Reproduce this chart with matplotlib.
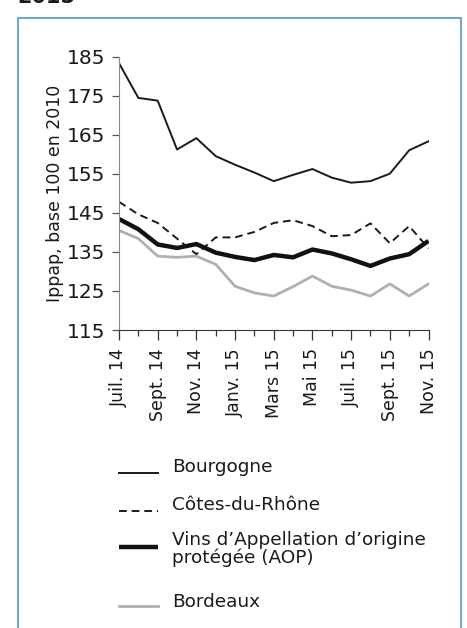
import matplotlib
matplotlib.use("Agg")
import matplotlib.pyplot as plt
from matplotlib.lines import Line2D
from matplotlib.patches import Rectangle

# monthly index, juillet 2014 -> novembre 2015
months = ["Juil. 14", "Août 14", "Sept. 14", "Oct. 14", "Nov. 14", "Déc. 14",
          "Janv. 15", "Févr. 15", "Mars 15", "Avr. 15", "Mai 15", "Juin 15",
          "Juil. 15", "Août 15", "Sept. 15", "Oct. 15", "Nov. 15"]
bourgogne = [183.3, 174.4, 173.7, 161.2, 164.1, 159.5, 157.3, 155.3, 153.1,
             154.7, 156.2, 154.0, 152.7, 153.1, 155.0, 161.0, 163.3]
cotes_du_rhone = [147.8, 144.6, 142.4, 138.4, 134.4, 138.7, 138.7, 140.1, 142.4,
                  143.1, 141.6, 139.0, 139.3, 142.3, 137.2, 141.6, 135.9]
aop = [143.4, 140.8, 136.9, 136.0, 137.0, 134.8, 133.7, 132.9, 134.2,
       133.6, 135.6, 134.6, 133.1, 131.4, 133.3, 134.4, 137.8]
bordeaux = [140.5, 138.4, 133.9, 133.6, 133.9, 131.8, 126.2, 124.5, 123.7,
            126.1, 128.8, 126.2, 125.2, 123.7, 126.8, 123.7, 126.8]

labels = ["Bourgogne", "Côtes-du-Rhône",
          "Vins d\u2019Appellation d\u2019origine\nprotégée (AOP)", "Bordeaux"]
yticks = [115, 125, 135, 145, 155, 165, 175, 185]

W, H = 467, 628
fig = plt.figure(figsize=(W / 100, H / 100), dpi=100)
plt.rcParams['font.family'] = ['DejaVu Sans']

ax = fig.add_axes([119 / W, 1 - 330 / H, (428.5 - 119) / W, (330 - 56.5) / H])
x = list(range(len(months)))
styles = [
    dict(color="#1a1a1a", lw=1.4, ls="-"),
    dict(color="#1a1a1a", lw=1.4, ls=(0, (4, 2.5))),
    dict(color="#111111", lw=3.2, ls="-", solid_capstyle="butt"),
    dict(color="#b0b0b0", lw=2.0, ls="-"),
]
series = [bourgogne, cotes_du_rhone, aop, bordeaux]
for s, st in zip(series, styles):
    ax.plot(x, s, **st)

ax.set_xlim(0, len(months) - 1)
ax.set_ylim(115, 185)
ax.set_yticks(yticks)
ax.set_xticks(x[::2])
ax.set_xticklabels(months[::2], rotation=90)
ax.set_xticks(x[1::2], minor=True)
for sp in ["top", "right"]:
    ax.spines[sp].set_visible(False)
ax.spines["left"].set_color("#8a8a8a")
ax.spines["bottom"].set_color("#333333")
ax.tick_params(axis="y", length=5, width=0.9, color="#555555", labelsize=14.5,
               pad=5, labelcolor="#1a1a1a")
ax.tick_params(axis="x", which="major", length=7, width=0.9, color="#333333",
               labelsize=12.5, pad=6, labelcolor="#1a1a1a")
ax.tick_params(axis="x", which="minor", length=4.5, width=0.9, color="#333333")
ax.set_ylabel("Ippap, base 100 en 2010", fontsize=12.5, color="#1a1a1a", labelpad=2)

# custom legend below the chart
leg_rows = [(467, 473), (505, 511), (549, 547), (602, 606)]
for (ty, ly), lab, st in zip(leg_rows, labels, styles):
    fig.add_artist(Line2D([119 / W, 158 / W], [1 - ly / H, 1 - ly / H],
                          transform=fig.transFigure, **st))
    fig.text(172 / W, 1 - ty / H, lab, fontsize=13.3, va="center", ha="left",
             color="#1a1a1a", linespacing=1.0)

# blue frame, open at the bottom
fig.add_artist(Rectangle((18 / W, -0.05), (461 - 18) / W, 1.05 - 18 / H,
                         transform=fig.transFigure, fill=False,
                         edgecolor="#5b9fd6", lw=1.3))
fig.text(17 / W, 1 - 3 / H, "2015", fontsize=15, fontweight="bold",
         va="baseline", ha="left", color="#1a1a1a")

fig.savefig("out.png", dpi=100)
